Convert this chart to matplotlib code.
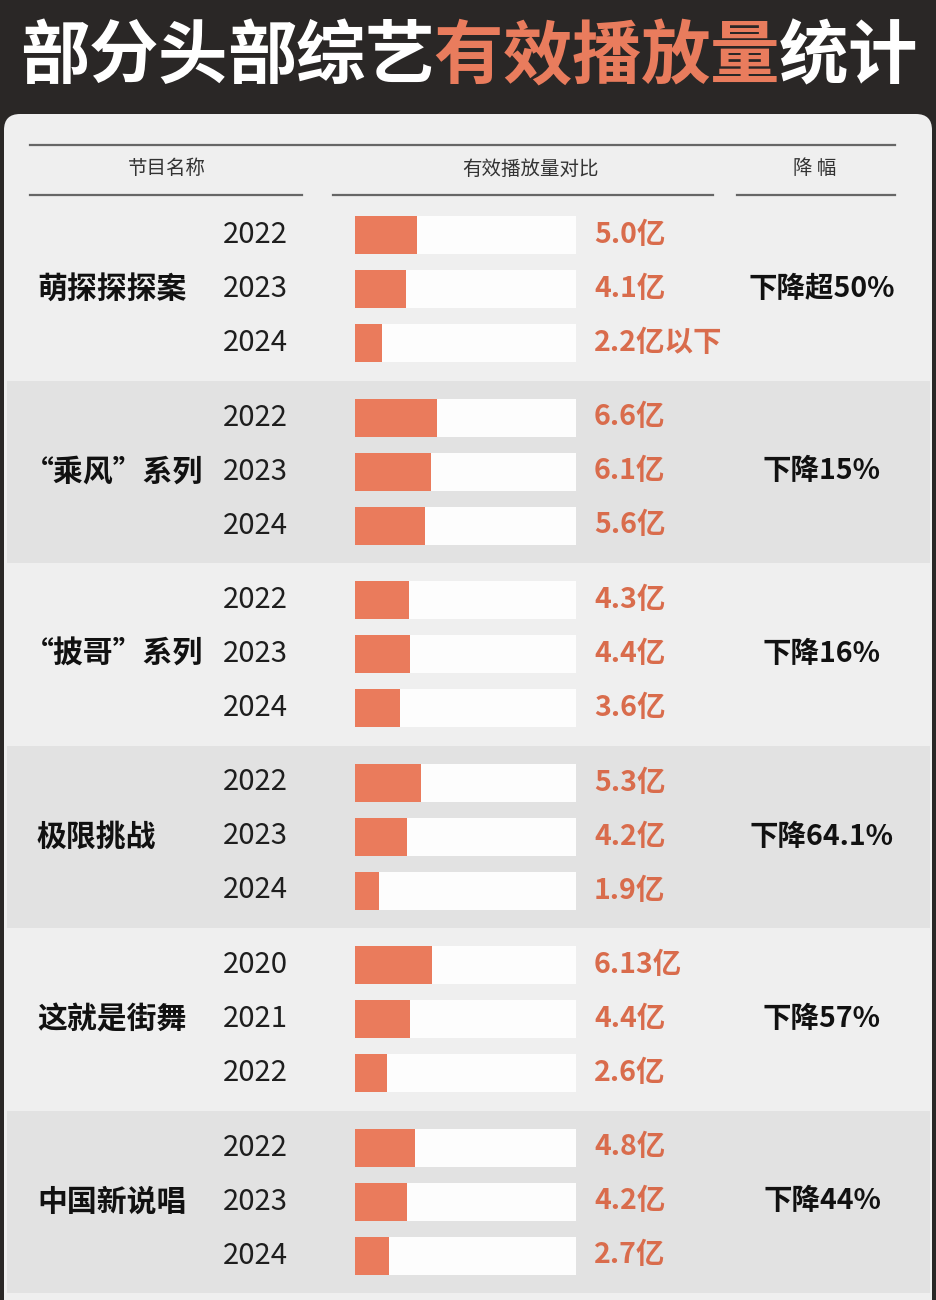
import matplotlib
matplotlib.use("Agg")
import matplotlib.pyplot as plt
from matplotlib.patches import FancyBboxPatch, Rectangle

plt.rcParams['font.family'] = ['Noto Sans CJK SC', 'DejaVu Sans']

# data
shows = ["萌探探探案", "“乘风”系列", "“披哥”系列", "极限挑战", "这就是街舞", "中国新说唱"]
years = [
    ["2022", "2023", "2024"],
    ["2022", "2023", "2024"],
    ["2022", "2023", "2024"],
    ["2022", "2023", "2024"],
    ["2020", "2021", "2022"],
    ["2022", "2023", "2024"],
]
plays = [
    [5.0, 4.1, 2.2],
    [6.6, 6.1, 5.6],
    [4.3, 4.4, 3.6],
    [5.3, 4.2, 1.9],
    [6.13, 4.4, 2.6],
    [4.8, 4.2, 2.7],
]
play_labels = [
    ["5.0亿", "4.1亿", "2.2亿以下"],
    ["6.6亿", "6.1亿", "5.6亿"],
    ["4.3亿", "4.4亿", "3.6亿"],
    ["5.3亿", "4.2亿", "1.9亿"],
    ["6.13亿", "4.4亿", "2.6亿"],
    ["4.8亿", "4.2亿", "2.7亿"],
]
declines = ["下降超50%", "下降15%", "下降16%", "下降64.1%", "下降57%", "下降44%"]
track_max = 17.7

title_parts = [("部分头部综艺", "white"), ("有效播放量", "#e97c5d"), ("统计", "white")]
col_heads = ["节目名称", "有效播放量对比", "降 幅"]

# layout (pixels)
W, H = 936, 1300
first_row = 235
row_gap = 54
group_gap = 182.5
bar_h = 38
bar_left, bar_right = 355, 576

fig = plt.figure(figsize=(W / 100, H / 100), dpi=100)
fig.patch.set_facecolor("#2a2726")
ax = fig.add_axes([0, 0, 1, 1])
ax.set_xlim(0, W)
ax.set_ylim(H, 0)
ax.axis("off")

# light panel
ax.add_patch(FancyBboxPatch((4, 114), W - 8, H, boxstyle="round,pad=0,rounding_size=16",
                            fc="#efefef", ec="none"))

# title, one char at a time
x = 20
char_w = 69
for txt, col in title_parts:
    for ch in txt:
        ax.text(x + char_w / 2, 58, ch, color=col, fontsize=50, fontweight="black",
                ha="center", va="center")
        x += char_w

# table header
ax.plot([30, 895], [145, 145], color="#666666", lw=1.6)
for x0, x1 in [(30, 302), (333, 713), (737, 895)]:
    ax.plot([x0, x1], [195, 195], color="#666666", lw=1.6)
for cx, t in zip([167, 530, 815], col_heads):
    ax.text(cx, 169, t, fontsize=14, color="#333333", ha="center", va="center")

# bars axes
bax = fig.add_axes([bar_left / W, 0, (bar_right - bar_left) / W, 1])
bax.set_xlim(0, track_max)
bax.set_ylim(H, 0)
bax.axis("off")
bax.patch.set_alpha(0)

for g in range(len(shows)):
    mid = first_row + g * group_gap + row_gap
    if g % 2 == 1:
        ax.add_patch(Rectangle((7, mid - 91), 923, 182, fc="#e2e2e2", ec="none"))
    ys = [first_row + g * group_gap + i * row_gap for i in range(3)]
    bax.barh(ys, [track_max] * 3, height=bar_h, left=0, color="#fdfdfd")
    bax.barh(ys, plays[g], height=bar_h, left=0, color="#ea7b5c")
    for y, yr, lab in zip(ys, years[g], play_labels[g]):
        ax.text(288, y, yr, fontsize=21, color="#1e1e1e", ha="right", va="center")
        ax.text(594, y, lab, fontsize=20.5, color="#d96c4c", fontweight="bold",
                ha="left", va="center")
    # full-width opening quote carries blank space on its left
    name_x = 24 if shows[g].startswith("“") else 37
    ax.text(name_x, mid, shows[g], fontsize=21.5, fontweight="bold", color="#111111",
            ha="left", va="center")
    ax.text(822, mid, declines[g], fontsize=20.5, fontweight="bold", color="#111111",
            ha="center", va="center")

fig.savefig("out.png", dpi=100, facecolor=fig.get_facecolor())
